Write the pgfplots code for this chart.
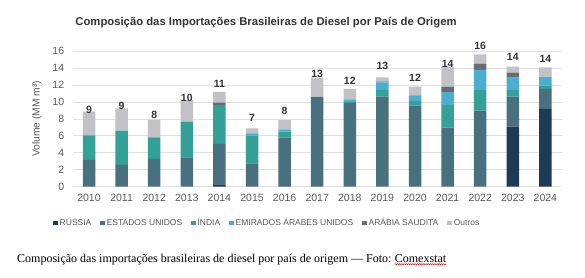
\documentclass[border=0pt]{standalone}
\usepackage{pgfplots}
\pgfplotsset{compat=1.18}
\usepackage{pgfplotstable}
\usepackage{fontspec}
\setmainfont{Liberation Sans}
\newfontfamily\seriffont{Liberation Serif}
\usetikzlibrary{decorations.pathmorphing}

\definecolor{cRU}{HTML}{1F3A56}
\definecolor{cES}{HTML}{48707F}
\definecolor{cIN}{HTML}{33A197}
\definecolor{cUAE}{HTML}{4CAECE}
\definecolor{cSA}{HTML}{666B74}
\definecolor{cOU}{HTML}{C2C2C6}
\definecolor{gridgray}{HTML}{E0E0E0}
\definecolor{tickgray}{HTML}{595959}
\definecolor{titlegray}{HTML}{333333}

\pgfplotstableread{
x R ES IN UAE SA O lab
0 0 3.15 2.91 0 0 2.80 9
1 0 2.56 4.04 0 0 2.65 9
2 0 3.27 2.56 0 0 2.04 8
3 0 3.46 4.22 0 0 2.52 10
4 0.28 4.76 4.61 0 0.27 1.26 11
5 0 2.76 3.26 0.28 0 0.59 7
6 0 5.79 0.71 0.27 0 1.10 8
7 0 10.55 0.05 0 0 2.27 13
8 0 9.84 0.15 0.31 0 1.23 12
9 0 10.63 0.77 0.90 0.10 0.50 13
10 0 9.57 0.53 0.60 0.05 1.05 12
11 0 6.97 2.68 1.49 0.66 2.37 14
12 0 8.98 2.42 2.38 0.72 1.10 16
13 7.09 3.54 0.77 1.47 0.59 0.71 14
14 9.17 2.36 0.40 0.87 0.10 1.16 14
}\data

\pgfplotsset{sq/.style={legend image code/.code={\fill[##1] (0pt,-2.2pt) rectangle (4.4pt,2.2pt);}}}

\begin{document}
\begin{tikzpicture}
\useasboundingbox (0pt,0pt) rectangle (585pt,277pt);
\node[font=\bfseries\fontsize{11.3}{13}\selectfont, text=titlegray] at (266pt,254.5pt) {Composição das Importações Brasileiras de Diesel por País de Origem};
\begin{axis}[
  at={(72.7pt,90.3pt)}, anchor=south west,
  scale only axis, width=489pt, height=135.7pt,
  ybar stacked, bar width=12.5pt,
  xmin=-0.5, xmax=14.5, ymin=0, ymax=16,
  ytick={0,2,...,16},
  xtick={0,...,14},
  xticklabels={2010,2011,2012,2013,2014,2015,2016,2017,2018,2019,2020,2021,2022,2023,2024},
  axis x line*=bottom, axis y line*=left,
  y axis line style={draw=none},
  x axis line style={draw=gridgray, line width=0.8pt},
  major tick length=0pt,
  ymajorgrids, grid style={draw=gridgray, line width=0.7pt},
  /pgf/number format/assume math mode=true,
  tick label style={font=\fontsize{10.5}{11}\selectfont, text=tickgray},
  yticklabel style={xshift=-5pt},
  xticklabel style={yshift=-3.5pt},
  ylabel={Volume (MM m³)},
  every axis y label/.style={at={(axis description cs:-0.073,0.5)}, rotate=90, anchor=center, font=\fontsize{10.3}{11}\selectfont, text=tickgray},
  legend style={at={(0.398,-0.267)}, anchor=center, draw=none, fill=none,
    font=\fontsize{8.5}{9}\selectfont, text=tickgray,
    /tikz/every even column/.append style={column sep=7pt},
    /tikz/every odd column/.append style={column sep=0pt}},
  legend columns=6,
  every axis plot/.append style={draw=none},
]
\addplot[fill=cRU, sq] table[x=x,y=R]{\data};
\addplot[fill=cES, sq] table[x=x,y=ES]{\data};
\addplot[fill=cIN, sq] table[x=x,y=IN]{\data};
\addplot[fill=cUAE, sq] table[x=x,y=UAE]{\data};
\addplot[fill=cSA, sq] table[x=x,y=SA]{\data};
\addplot[fill=cOU, sq, point meta=explicit symbolic, nodes near coords,
  every node near coord/.append style={anchor=south, font=\bfseries\fontsize{10.5}{11}\selectfont, text=titlegray, yshift=6pt}]
  table[x=x,y=O,meta=lab]{\data};
\legend{RÚSSIA,ESTADOS UNIDOS,ÍNDIA,EMIRADOS ÁRABES UNIDOS,ARÁBIA SAUDITA,Outros}
\end{axis}
\node[anchor=base west, inner sep=0pt, font=\seriffont\fontsize{12}{14}\selectfont] (c1) at (17pt,15pt) {Composição das importações brasileiras de diesel por país de origem — Foto:};
\node[anchor=base west, inner sep=0pt, font=\seriffont\fontsize{12}{14}\selectfont] (c2) at ([xshift=3pt]c1.base east) {Comexstat};
\draw[red, line width=0.5pt, decorate, decoration={snake, amplitude=0.6pt, segment length=2.2pt}] ([yshift=-2.2pt]c2.base west) -- ([yshift=-2.2pt]c2.base east);
\end{tikzpicture}
\end{document}
